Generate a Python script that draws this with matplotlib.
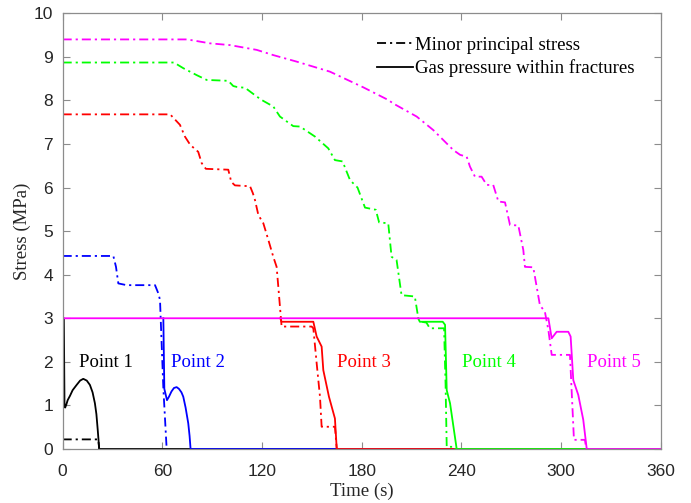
import matplotlib
matplotlib.use("Agg")
import matplotlib.pyplot as plt

# minor principal stress (dash-dot) and gas pressure in fractures (solid), per monitoring point.
# gas pressure sits at 3 MPa until release; the flat 3 MPa stretch is drawn by point 5 only
p1_stress_t = [0, 21.4, 22.0]
p1_stress_v = [0.22, 0.22, 0]
p1_gas_t = [0, 0.7, 1.1, 1.5, 2.2, 3.0, 4.4, 6.0, 8.4, 10.5, 12.4, 14.5, 16.4, 18.0,
            19.4, 20.3, 21.1, 22.0, 360]
p1_gas_v = [3.0, 3.0, 1.0, 0.95, 1.02, 1.12, 1.22, 1.35, 1.47, 1.57, 1.61, 1.57, 1.47, 1.30,
            1.05, 0.80, 0.44, 0, 0]

p2_stress_t = [0, 30.5, 32.1, 33.5, 38.5, 55.6, 57.6, 58.6, 59.0, 60.6, 62.6]
p2_stress_v = [4.43, 4.43, 4.18, 3.80, 3.76, 3.76, 3.57, 3.42, 3.0, 1.4, 0]
p2_gas_t = [60.6, 61.2, 62.8, 64.0, 65.5, 67.0, 68.6, 70.0, 71.5, 72.6, 74.0,
            75.6, 76.4, 77.0, 360]
p2_gas_v = [3.0, 1.38, 1.12, 1.20, 1.32, 1.40, 1.42, 1.38, 1.30, 1.20, 0.95,
            0.59, 0.30, 0, 0]

p3_stress_t = [0, 64.7, 70.6, 73.6, 76.8, 81.6, 83.7, 86.2, 99.7, 101.5, 103.7,
               112.8, 114.5, 115.8, 117.8, 120.8, 123.8, 126.8, 128.8, 129.8,
               130.8, 131.8, 149.9, 150.9, 152.9, 154.9, 155.9, 163.9, 165.0]
p3_stress_v = [7.68, 7.68, 7.44, 7.17, 6.98, 6.82, 6.56, 6.43, 6.41, 6.13, 6.05,
               6.03, 5.87, 5.71, 5.37, 5.18, 4.80, 4.41, 4.18, 3.73,
               3.27, 2.81, 2.81, 2.77, 1.97, 1.20, 0.51, 0.51, 0]
p3_gas_t = [131.0, 131.8, 150.9, 152.9, 155.9, 156.9, 160.3, 163.9, 165.0, 360]
p3_gas_v = [3.0, 2.92, 2.92, 2.58, 2.35, 1.81, 1.20, 0.70, 0, 0]

p4_stress_t = [0, 67.0, 72.6, 80.7, 86.7, 99.7, 102.7, 104.8, 109.8, 116.8, 119.8,
               126.8, 130.8, 138.8, 142.9, 151.9, 159.9, 163.9, 168.5, 173.0,
               177.5, 182.0, 188.5, 190.5, 196.0, 198.0, 201.0, 204.0, 212.0,
               214.1, 216.0, 219.0, 221.0, 229.6, 230.5, 231.2, 236.0, 236.5]
p4_stress_v = [8.87, 8.87, 8.74, 8.58, 8.47, 8.45, 8.33, 8.31, 8.29, 8.09, 8.01,
               7.86, 7.63, 7.41, 7.40, 7.17, 6.90, 6.63, 6.60, 6.17,
               6.00, 5.54, 5.49, 5.20, 5.18, 4.41, 4.34, 3.53, 3.50,
               3.0, 2.92, 2.90, 2.77, 2.77, 1.5, 0.05, 0.05, 0]
p4_gas_t = [214.0, 215.0, 228.8, 230.2, 231.2, 233.2, 237.2, 360]
p4_gas_v = [3.0, 2.92, 2.92, 2.85, 1.35, 1.05, 0, 0]

p5_stress_t = [0, 75.0, 88.7, 100.7, 116.8, 126.8, 140.9, 160.9, 181.0, 196.0, 199.0,
               213.1, 223.1, 235.2, 239.3, 243.2, 245.2, 248.2, 252.2, 255.3,
               259.2, 262.3, 266.3, 269.3, 274.3, 277.3, 278.3, 283.3, 287.3,
               289.3, 290.3, 292.4, 294.4, 305.4, 307.8, 314.4, 315.2]
p5_stress_v = [9.40, 9.40, 9.31, 9.27, 9.16, 9.04, 8.89, 8.66, 8.30, 8.01, 7.93,
               7.63, 7.32, 6.86, 6.75, 6.71, 6.48, 6.25, 6.25, 6.06,
               6.06, 5.68, 5.66, 5.14, 5.13, 4.57, 4.18, 4.17, 3.30,
               3.20, 3.15, 2.73, 2.16, 2.16, 0.21, 0.21, 0]
p5_gas_t = [0, 292.4, 294.4, 297.4, 304.4, 305.8, 307.4, 310.4, 313.4, 315.5, 360]
p5_gas_v = [3.0, 3.0, 2.54, 2.69, 2.69, 2.58, 1.58, 1.24, 0.67, 0, 0]

point_names = ["Point 1", "Point 2", "Point 3", "Point 4", "Point 5"]
point_colors = ["#000000", "#0000ff", "#ff0000", "#00ff00", "#ff00ff"]
label_t = [10.0, 65.2, 165.3, 240.6, 315.5]
label_v = [1.98, 1.98, 1.98, 1.98, 1.98]

series = [
    (p1_stress_t, p1_stress_v, p1_gas_t, p1_gas_v),
    (p2_stress_t, p2_stress_v, p2_gas_t, p2_gas_v),
    (p3_stress_t, p3_stress_v, p3_gas_t, p3_gas_v),
    (p4_stress_t, p4_stress_v, p4_gas_t, p4_gas_v),
    (p5_stress_t, p5_stress_v, p5_gas_t, p5_gas_v),
]

serif = ["Liberation Serif", "DejaVu Serif"]
plt.rcParams["font.family"] = ["Liberation Sans", "DejaVu Sans"]

fig = plt.figure(figsize=(6.91, 5.03), dpi=100)
ax = fig.add_axes([0.0907, 0.1074, 0.8654, 0.8662])

dashdot = (0, (5.0, 2.2, 1.2, 2.2))
lw = 1.3
for (st, sv, gt, gv), c in zip(series, point_colors):
    ax.plot(st, sv, color=c, lw=lw, linestyle=dashdot)
    ax.plot(gt, gv, color=c, lw=lw, linestyle="-")

for name, c, x, y in zip(point_names, point_colors, label_t, label_v):
    ax.text(x, y, name, color=c, fontsize=13.5, family=serif,
            ha="left", va="center")

# legend entries drawn in black
h1, = ax.plot([], [], color="k", lw=lw, linestyle=dashdot)
h2, = ax.plot([], [], color="k", lw=lw, linestyle="-")
ax.legend([h1, h2], ["Minor principal stress", "Gas pressure within fractures"],
          loc="upper left", bbox_to_anchor=(0.5256, 0.946), frameon=False,
          prop={"family": serif, "size": 13.5}, handlelength=1.9,
          handletextpad=0.15, borderpad=0, borderaxespad=0, labelspacing=0.3)

ax.set_xlim(0, 360)
ax.set_ylim(0, 10)
ax.set_xticks(range(0, 361, 60))
ax.set_yticks(range(0, 11, 1))

spine_color = "#8c8c8c"
for s in ax.spines.values():
    s.set_color(spine_color)
    s.set_linewidth(0.9)
ax.tick_params(direction="in", length=5, width=0.8, color=spine_color,
               labelcolor="#262626", labelsize=12.5, top=True, right=True)
ax.tick_params(axis="x", pad=10.5)
ax.tick_params(axis="y", pad=7)

ax.set_xlabel("Time (s)", family=serif, fontsize=13.5, color="#262626", labelpad=3)
ax.set_ylabel("Stress (MPa)", family=serif, fontsize=13.5, color="#262626", labelpad=2)

fig.savefig("out.png", dpi=100)
